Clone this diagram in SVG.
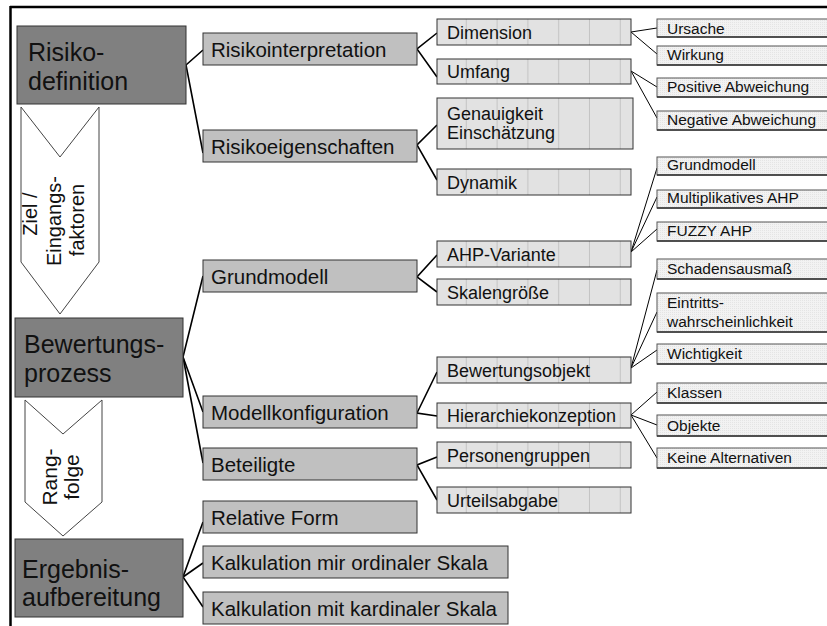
<svg xmlns="http://www.w3.org/2000/svg" width="827" height="626" viewBox="0 0 827 626">
<defs>
<pattern id="grid" patternUnits="userSpaceOnUse" x="436" y="0" width="30.8" height="4">
<rect width="30.8" height="4" fill="#e2e2e2"/>
<line x1="30.3" y1="0" x2="30.3" y2="4" stroke="#c4c4c4" stroke-width="1"/>
</pattern>
<pattern id="dots" patternUnits="userSpaceOnUse" width="2" height="2">
<rect width="2" height="2" fill="#f2f2f2"/>
<rect width="1" height="1" fill="#e4e4e4"/>
</pattern>
</defs>
<style>
text{font-family:"Liberation Sans",Arial,Helvetica,sans-serif;fill:#111}
.n0 rect{fill:#808080;stroke:#333;stroke-width:1}
.n1 rect{fill:#c0c0c0;stroke:#333;stroke-width:1}
.n2 rect{fill:url(#grid);stroke:#333;stroke-width:1}
.n3 rect{fill:url(#dots);stroke:#555;stroke-width:1}
.n3 line{stroke:#333;stroke-width:1.5}
.n0 text{font-size:25px}
.n1 text{font-size:20.5px}
.n2 text{font-size:18px}
.n3 text{font-size:15.5px}
.arrow polygon{fill:#fff;stroke:#444;stroke-width:1}
.arrow text{font-size:20px}
.c1{stroke:#000;stroke-width:1.6;fill:none}
.c2{stroke:#000;stroke-width:1;fill:none}
</style>
<rect width="827" height="626" fill="#fff"/>
<g id="frame" stroke="#000" stroke-width="2.5" fill="none">
<line x1="10" y1="7" x2="827" y2="7"/>
<line x1="10.5" y1="6" x2="10.5" y2="626"/>
</g>
<g id="arrow-ziel" class="arrow">
<polygon points="21,107 60,157 99,107 99,262 60,314 21,262"/>
<text transform="translate(37,214) rotate(-90)" text-anchor="middle">Ziel /</text>
<text transform="translate(61,221) rotate(-90)" text-anchor="middle">Eingangs-</text>
<text transform="translate(84,220) rotate(-90)" text-anchor="middle">faktoren</text>
</g>
<g id="arrow-rang" class="arrow">
<polygon points="25,400 63,434 102,400 102,502 63,536 25,502"/>
<text transform="translate(57,477) rotate(-90)" text-anchor="middle" style="font-size:21px">Rang-</text>
<text transform="translate(79,477) rotate(-90)" text-anchor="middle" style="font-size:21px">folge</text>
</g>
<g id="connectors">
<polyline class="c1" points="203,50 186,65 203,153"/>
<polyline class="c1" points="203,276 183,357 203,412"/>
<line class="c1" x1="183" y1="357" x2="203" y2="463"/>
<polyline class="c1" points="203,522 183,577 203,607"/>
<line class="c1" x1="183" y1="577" x2="203" y2="563"/>
<polyline class="c1" points="437,33 417,49 437,77"/>
<polyline class="c1" points="437,125 417,145 437,180"/>
<polyline class="c1" points="437,255 417,277 437,292"/>
<polyline class="c1" points="437,372 417,413 437,416"/>
<polyline class="c1" points="437,457 417,465 437,500"/>
<polyline class="c2" points="657,28 631,32 657,54"/>
<polyline class="c2" points="657,87 631,71 657,118"/>
<polyline class="c2" points="657,168 631,252 657,229"/>
<line class="c2" x1="631" y1="252" x2="657" y2="197"/>
<polyline class="c2" points="657,270 631,368 657,350"/>
<line class="c2" x1="631" y1="368" x2="657" y2="312"/>
<polyline class="c2" points="657,392 631,415 657,458"/>
<line class="c2" x1="631" y1="415" x2="657" y2="425"/>
</g>
<g id="risikodefinition" class="n0"><rect x="17" y="26" width="169" height="78"/><text x="28" y="61">Risiko-</text><text x="28" y="90">definition</text></g>
<g id="bewertungsprozess" class="n0"><rect x="15" y="318" width="168" height="79"/><text x="24" y="353">Bewertungs-</text><text x="24" y="382">prozess</text></g>
<g id="ergebnisaufbereitung" class="n0"><rect x="15" y="539" width="168" height="78"/><text x="22" y="578">Ergebnis-</text><text x="22" y="606">aufbereitung</text></g>
<g id="risikointerpretation" class="n1"><rect x="203" y="33" width="214" height="32"/><text x="211" y="57">Risikointerpretation</text></g>
<g id="risikoeigenschaften" class="n1"><rect x="203" y="130" width="214" height="32"/><text x="211" y="154">Risikoeigenschaften</text></g>
<g id="grundmodell" class="n1"><rect x="203" y="260" width="214" height="32"/><text x="211" y="284">Grundmodell</text></g>
<g id="modellkonfiguration" class="n1"><rect x="203" y="396" width="214" height="32"/><text x="211" y="420">Modellkonfiguration</text></g>
<g id="beteiligte" class="n1"><rect x="203" y="448" width="214" height="32"/><text x="211" y="472">Beteiligte</text></g>
<g id="relative-form" class="n1"><rect x="203" y="501" width="214" height="32"/><text x="211" y="525">Relative Form</text></g>
<g id="kalkulation-ordinal" class="n1"><rect x="203" y="546" width="305" height="32"/><text x="211" y="570">Kalkulation mir ordinaler Skala</text></g>
<g id="kalkulation-kardinal" class="n1"><rect x="203" y="592" width="305" height="32"/><text x="211" y="616">Kalkulation mit kardinaler Skala</text></g>
<g id="dimension" class="n2"><rect x="437" y="19" width="194" height="26"/><text x="447" y="38.5">Dimension</text></g>
<g id="umfang" class="n2"><rect x="437" y="59" width="194" height="25"/><text x="447" y="78">Umfang</text></g>
<g id="genauigkeit" class="n2"><rect x="437" y="98" width="196" height="51"/><text x="447" y="120">Genauigkeit</text><text x="447" y="139">Einschätzung</text></g>
<g id="dynamik" class="n2"><rect x="437" y="169" width="194" height="26"/><text x="447" y="189">Dynamik</text></g>
<g id="ahp-variante" class="n2"><rect x="437" y="241" width="194" height="26"/><text x="447" y="260.5">AHP-Variante</text></g>
<g id="skalengroesse" class="n2"><rect x="437" y="279" width="194" height="26"/><text x="447" y="298.5">Skalengröße</text></g>
<g id="bewertungsobjekt" class="n2"><rect x="437" y="357" width="194" height="26"/><text x="447" y="377">Bewertungsobjekt</text></g>
<g id="hierarchiekonzeption" class="n2"><rect x="437" y="403" width="194" height="25"/><text x="447" y="422">Hierarchiekonzeption</text></g>
<g id="personengruppen" class="n2"><rect x="437" y="442" width="194" height="26"/><text x="447" y="462">Personengruppen</text></g>
<g id="urteilsabgabe" class="n2"><rect x="437" y="487" width="194" height="26"/><text x="447" y="506.5">Urteilsabgabe</text></g>
<g id="ursache" class="n3"><rect x="657" y="19" width="175" height="18"/><line x1="657" y1="37" x2="832" y2="37"/><text x="667" y="34">Ursache</text></g>
<g id="wirkung" class="n3"><rect x="657" y="46" width="175" height="19"/><line x1="657" y1="65" x2="832" y2="65"/><text x="667" y="60">Wirkung</text></g>
<g id="positive" class="n3"><rect x="657" y="78" width="175" height="19"/><line x1="657" y1="97" x2="832" y2="97"/><text x="667" y="92">Positive Abweichung</text></g>
<g id="negative" class="n3"><rect x="657" y="111" width="175" height="19"/><line x1="657" y1="130" x2="832" y2="130"/><text x="667" y="125">Negative Abweichung</text></g>
<g id="grundmodell-ahp" class="n3"><rect x="657" y="157" width="175" height="18"/><line x1="657" y1="175" x2="832" y2="175"/><text x="667" y="170">Grundmodell</text></g>
<g id="multiplikatives-ahp" class="n3"><rect x="657" y="190" width="175" height="18"/><line x1="657" y1="208" x2="832" y2="208"/><text x="667" y="203">Multiplikatives AHP</text></g>
<g id="fuzzy-ahp" class="n3"><rect x="657" y="222" width="175" height="19"/><line x1="657" y1="241" x2="832" y2="241"/><text x="667" y="235.5">FUZZY AHP</text></g>
<g id="schadensausmass" class="n3"><rect x="657" y="259" width="175" height="20"/><line x1="657" y1="279" x2="832" y2="279"/><text x="667" y="274">Schadensausmaß</text></g>
<g id="eintrittswahrscheinlichkeit" class="n3"><rect x="657" y="293" width="175" height="39"/><line x1="657" y1="332" x2="832" y2="332"/><text x="667" y="308">Eintritts-</text><text x="667" y="327">wahrscheinlichkeit</text></g>
<g id="wichtigkeit" class="n3"><rect x="657" y="344" width="175" height="20"/><line x1="657" y1="364" x2="832" y2="364"/><text x="667" y="359">Wichtigkeit</text></g>
<g id="klassen" class="n3"><rect x="657" y="383" width="175" height="20"/><line x1="657" y1="403" x2="832" y2="403"/><text x="667" y="398">Klassen</text></g>
<g id="objekte" class="n3"><rect x="657" y="415" width="175" height="21"/><line x1="657" y1="436" x2="832" y2="436"/><text x="667" y="431">Objekte</text></g>
<g id="keine-alternativen" class="n3"><rect x="657" y="448" width="175" height="20"/><line x1="657" y1="468" x2="832" y2="468"/><text x="667" y="463">Keine Alternativen</text></g>
</svg>
